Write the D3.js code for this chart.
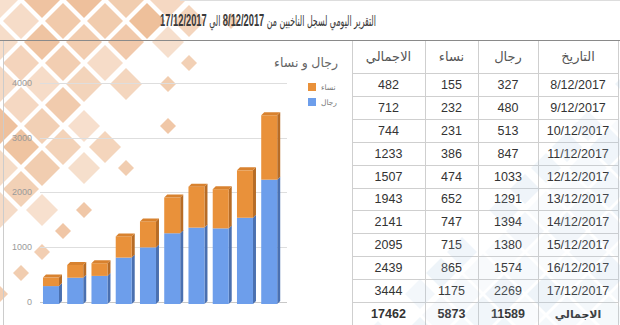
<!DOCTYPE html>
<html><head><meta charset="utf-8">
<script src="https://cdn.jsdelivr.net/npm/d3@7"></script>
<style>body{margin:0;background:#fff}svg{display:block}</style>
</head><body>
<svg id="c" width="620" height="325"></svg>
<script>
// ---------- data ----------
const dates = ["8/12/2017","9/12/2017","10/12/2017","11/12/2017","12/12/2017","13/12/2017","14/12/2017","15/12/2017","16/12/2017","17/12/2017"];
const men = [327,480,513,847,1033,1291,1394,1380,1574,2269];
const women = [155,232,231,386,474,652,747,715,865,1175];
const totals = [482,712,744,1233,1507,1943,2141,2095,2439,3444];
const grandRow = ["الاجمالي", 11589, 5873, 17462];
const headers = ["التاريخ","رجال","نساء","الاجمالي"];
const yTicks = [0,1000,2000,3000,4000];
const seriesNames = ["نساء","رجال"];
const chartTitle = "رجال و نساء";
const titleParts = ["التقرير اليومي لسجل الناخبين من ", "8/12/2017", " الي ", "17/12/2017"];

const svg = d3.select("#c");
const W = 620, H = 325;
const FONT = "'Liberation Sans', Arial, 'DejaVu Sans', sans-serif";

function hash(a,b){ const s=Math.sin(a*127.1+b*311.7)*43758.5453; return s-Math.floor(s); }

// ---------- orange decoration (top-left) ----------
const deco = svg.append("g");
const d = 21;
for(let i=-2;i<14;i++){
  for(let j=-2;j<16;j++){
    if((i+j)%2!==0) continue;
    const cx=i*d, cy=j*d;
    const t = cx/215 + cy/265;
    const h = hash(i,j);
    let r, op;
    if(t<0.85){ r = 18; op = 0.4+0.45*h; }
    else if(t<1.05){ r = h>0.4?16:0; op = 0.2+0.35*h; }
    else if(t<1.3){ r = h>0.55?8:0; op = 0.35+0.4*h; }
    else continue;
    if(r===0) continue;
    deco.append("path")
      .attr("d",`M${cx},${cy-r}L${cx+r},${cy}L${cx},${cy+r}L${cx-r},${cy}Z`)
      .attr("fill","#eab184").attr("opacity",op);
  }
}

// ---------- frame lines ----------
svg.append("line").attr("x1",0).attr("x2",W).attr("y1",40.5).attr("y2",40.5).attr("stroke","#8a8a8a");
svg.append("line").attr("x1",180).attr("x2",W).attr("y1",0.5).attr("y2",0.5).attr("stroke","#ddd");
svg.append("line").attr("x1",3.5).attr("x2",3.5).attr("y1",41).attr("y2",H).attr("stroke","#ccc");

// ---------- title ----------
const title = svg.append("text").attr("direction","rtl").attr("text-anchor","middle")
  .attr("font-family","'DejaVu Sans Condensed', 'DejaVu Sans', sans-serif").attr("font-size",15).attr("fill","#3a3a3a")
  .attr("transform","translate(268,25)");
titleParts.forEach((p,i)=>{
  title.append("tspan").attr("font-weight", i%2===1?"bold":"normal")
    .attr("font-family", i%2===1?"'Liberation Sans Narrow','Liberation Sans', Arial, sans-serif":null)
    .attr("font-size", i%2===1?16:15)
    .text(p);
});
{
  const bb = title.node().getBBox();
  const sx = 216/bb.width;
  title.attr("transform",`translate(268,25.5) scale(${sx},1)`);
}

// ---------- chart ----------
const y = d3.scaleLinear().domain([0,4000]).range([302,82.8]);
const x = d3.scaleBand().domain(dates).range([35.7,284.5]).paddingInner(0.34).paddingOuter(0.3);
const g = svg.append("g");
g.selectAll(".grid").data(yTicks).join("line")
  .attr("x1",40).attr("x2",287)
  .attr("y1",v=>Math.round(y(v))+0.5).attr("y2",v=>Math.round(y(v))+0.5)
  .attr("stroke",v=>v===0?"#c8c8c8":"#dedede");
g.selectAll(".yl").data(yTicks).join("text")
  .attr("x",32).attr("y",v=>y(v)+3).attr("text-anchor","end")
  .attr("font-family",FONT).attr("font-size",9).attr("fill","#9a9a9a")
  .text(v=>v);

const dx=3, dy=3, off=2;
const stackData = dates.map((dt,i)=>({dt, segs:[{v0:0,v1:men[i],c:"#6d9eeb",s:"#4a70b0",t:"#5f8fd8"},{v0:men[i],v1:men[i]+women[i],c:"#e9913a",s:"#b76c26",t:"#d8822f"}]}));
stackData.forEach(sd=>{
  const x0 = x(sd.dt), bw = x.bandwidth();
  sd.segs.forEach((s,k)=>{
    const yt = y(s.v1)+off, yb = y(s.v0)+off;
    g.append("path").attr("d",`M${x0+bw},${yt}L${x0+bw+dx},${yt-dy}L${x0+bw+dx},${yb-dy}L${x0+bw},${yb}Z`).attr("fill",s.s);
    g.append("rect").attr("x",x0).attr("y",yt).attr("width",bw).attr("height",yb-yt).attr("fill",s.c);
    if(k===sd.segs.length-1){
      g.append("path").attr("d",`M${x0},${yt}L${x0+dx},${yt-dy}L${x0+bw+dx},${yt-dy}L${x0+bw},${yt}Z`).attr("fill",s.t);
    }
  });
});

// legend
svg.append("text").attr("x",338).attr("y",67).attr("text-anchor","end")
  .attr("font-family",FONT).attr("font-size",12.5).attr("fill","#666").text(chartTitle);
const legColors = ["#e9913a","#6d9eeb"];
seriesNames.forEach((n,i)=>{
  svg.append("rect").attr("x",308).attr("y",83+i*15).attr("width",8).attr("height",8).attr("fill",legColors[i]);
  svg.append("text").attr("x",321).attr("y",90+i*15).attr("font-family",FONT).attr("font-size",7.5).attr("fill","#777").text(n);
});

// ---------- table ----------
const colX = [352,425,478,538,618];
const rowY = d3.range(12).map(i=> i===0?40: 73 + (i-1)*22.9);
const tb = svg.append("g");
tb.append("rect").attr("x",352).attr("y",41).attr("width",W-352).attr("height",H-41).attr("fill","#fff");
const headLR = headers.slice().reverse();
headLR.forEach((h,c)=>{
  tb.append("text").attr("x",(colX[c]+colX[c+1])/2).attr("y",61).attr("text-anchor","middle")
    .attr("font-family",FONT).attr("font-size",13).attr("fill","#555").text(h);
});
dates.forEach((dt,r)=>{
  const vals=[totals[r],women[r],men[r],dt];
  const cy = (rowY[r+1]+rowY[r+2])/2 + 4.5;
  vals.forEach((v,c)=>{
    tb.append("text").attr("x",(colX[c]+colX[c+1])/2).attr("y",cy).attr("text-anchor","middle")
      .attr("font-family",FONT).attr("font-size",12.5).attr("fill","#333").text(v);
  });
});
{
  const vals = grandRow.slice().reverse();
  const cy = (rowY[11]+H)/2+4.5;
  vals.forEach((v,c)=>{
    tb.append("text").attr("x",(colX[c]+colX[c+1])/2).attr("y",cy).attr("text-anchor","middle")
      .attr("font-family",FONT).attr("font-size",c===3?11:12.5).attr("font-weight","bold").attr("fill","#333").text(v);
  });
}
// blue decoration (bottom-right), subtle
const bdeco = svg.append("g");
for(let i=14;i<34;i++){
  for(let j=4;j<18;j++){
    if((i+j)%2!==0) continue;
    const cx=i*d, cy=j*d;
    if(cx<352) continue;
    const t = (W-cx)/240 + (H-cy)/240;
    const h = hash(i+3,j+7);
    if(t>1.05) continue;
    const r = t<0.8?19:(h>0.4?15:0);
    if(!r) continue;
    bdeco.append("path")
      .attr("d",`M${cx},${cy-r}L${cx+r},${cy}L${cx},${cy+r}L${cx-r},${cy}Z`)
      .attr("fill","#a9c6e0").attr("opacity",0.07+0.13*h);
  }
}
colX.forEach(cx=>{
  tb.append("line").attr("x1",cx+0.5).attr("x2",cx+0.5).attr("y1",41).attr("y2",H).attr("stroke","#cfcfcf");
});
rowY.slice(1).forEach(ry=>{
  tb.append("line").attr("x1",352).attr("x2",618).attr("y1",Math.round(ry)+0.5).attr("y2",Math.round(ry)+0.5).attr("stroke","#cfcfcf");
});
</script>
</body></html>
